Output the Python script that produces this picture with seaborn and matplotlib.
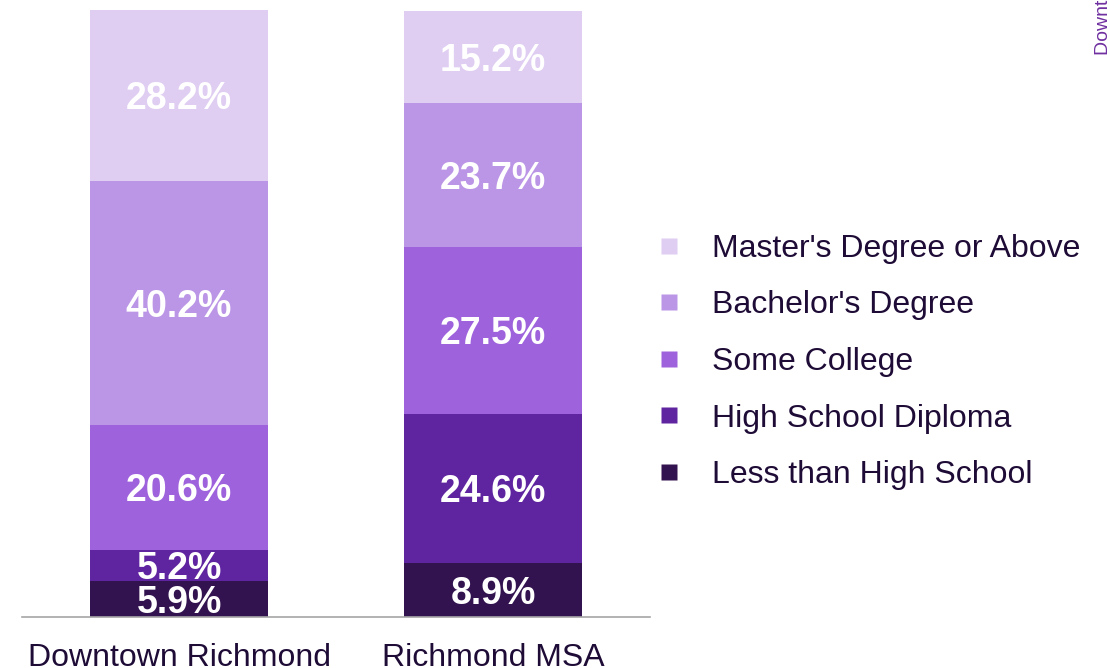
import numpy as np
import pandas as pd
import seaborn as sns
import matplotlib.pyplot as plt
from matplotlib.lines import Line2D

# data (bottom segment first)
regions = ["Downtown Richmond", "Richmond MSA"]
levels = ["Less than High School", "High School Diploma", "Some College",
          "Bachelor's Degree", "Master's Degree or Above"]
downtown = [5.9, 5.2, 20.6, 40.2, 28.2]
msa = [8.9, 24.6, 27.5, 23.7, 15.2]
colors = ["#32134F", "#5F249F", "#9E63DC", "#BC96E6", "#DFCDF2"]


def main() -> None:
    sns.set_theme(style="white")
    plt.rcParams['font.family'] = ['Liberation Sans', 'DejaVu Sans']

    df = pd.DataFrame({"region": regions * len(levels),
                       "level": np.repeat(levels, len(regions)),
                       "value": [v for pair in zip(downtown, msa) for v in pair]})
    df["top"] = df.groupby("region")["value"].cumsum()
    df["bottom"] = df["top"] - df["value"]

    fig = plt.figure(figsize=(11.1, 6.68), dpi=100)
    ax = fig.add_axes([22 / 1110, 51 / 668, 628 / 1110, 607 / 668])

    # draw cumulative bars from the top layer down so each covers the one above
    for lvl, col in reversed(list(zip(levels, colors))):
        sub = df[df["level"] == lvl]
        sns.barplot(data=sub, x="region", y="top", order=regions, color=col,
                    width=0.57, saturation=1, ax=ax, edgecolor="none")

    for _, row in df.iterrows():
        xi = regions.index(row["region"])
        ax.text(xi, (row["top"] + row["bottom"]) / 2, f"{row['value']:.1f}%",
                ha="center", va="center_baseline", color="white", fontsize=27,
                fontweight="bold")

    ax.set_xlim(-0.5, 1.5)
    ax.set_ylim(0, 100)
    ax.set_xlabel("")
    ax.set_ylabel("")
    ax.set_yticks([])
    for s in ["left", "right", "top"]:
        ax.spines[s].set_visible(False)
    ax.spines["bottom"].set_color("#A6A6A6")
    ax.spines["bottom"].set_linewidth(1.2)
    ax.tick_params(axis="x", length=0, pad=19, labelsize=23, labelcolor="#1E0B36")

    handles = [Line2D([], [], marker="s", linestyle="none", markersize=12,
                      markerfacecolor=c, markeredgecolor="none", label=l)
               for l, c in zip(levels, colors)][::-1]
    fig.legend(handles=handles, loc="center left",
               bbox_to_anchor=(637 / 1110, 1 - 362 / 668), frameon=False,
               fontsize=23, labelcolor="#1E0B36", labelspacing=0.83,
               handletextpad=0.85, handlelength=1.0, borderpad=0)

    fig.text(1103 / 1110, 1 - 55 / 668, "Downtown Richmond", rotation=90,
             ha="center", va="bottom", color="#7030A0", fontsize=14)

    fig.savefig("out.png", dpi=100)


if __name__ == "__main__":
    main()
